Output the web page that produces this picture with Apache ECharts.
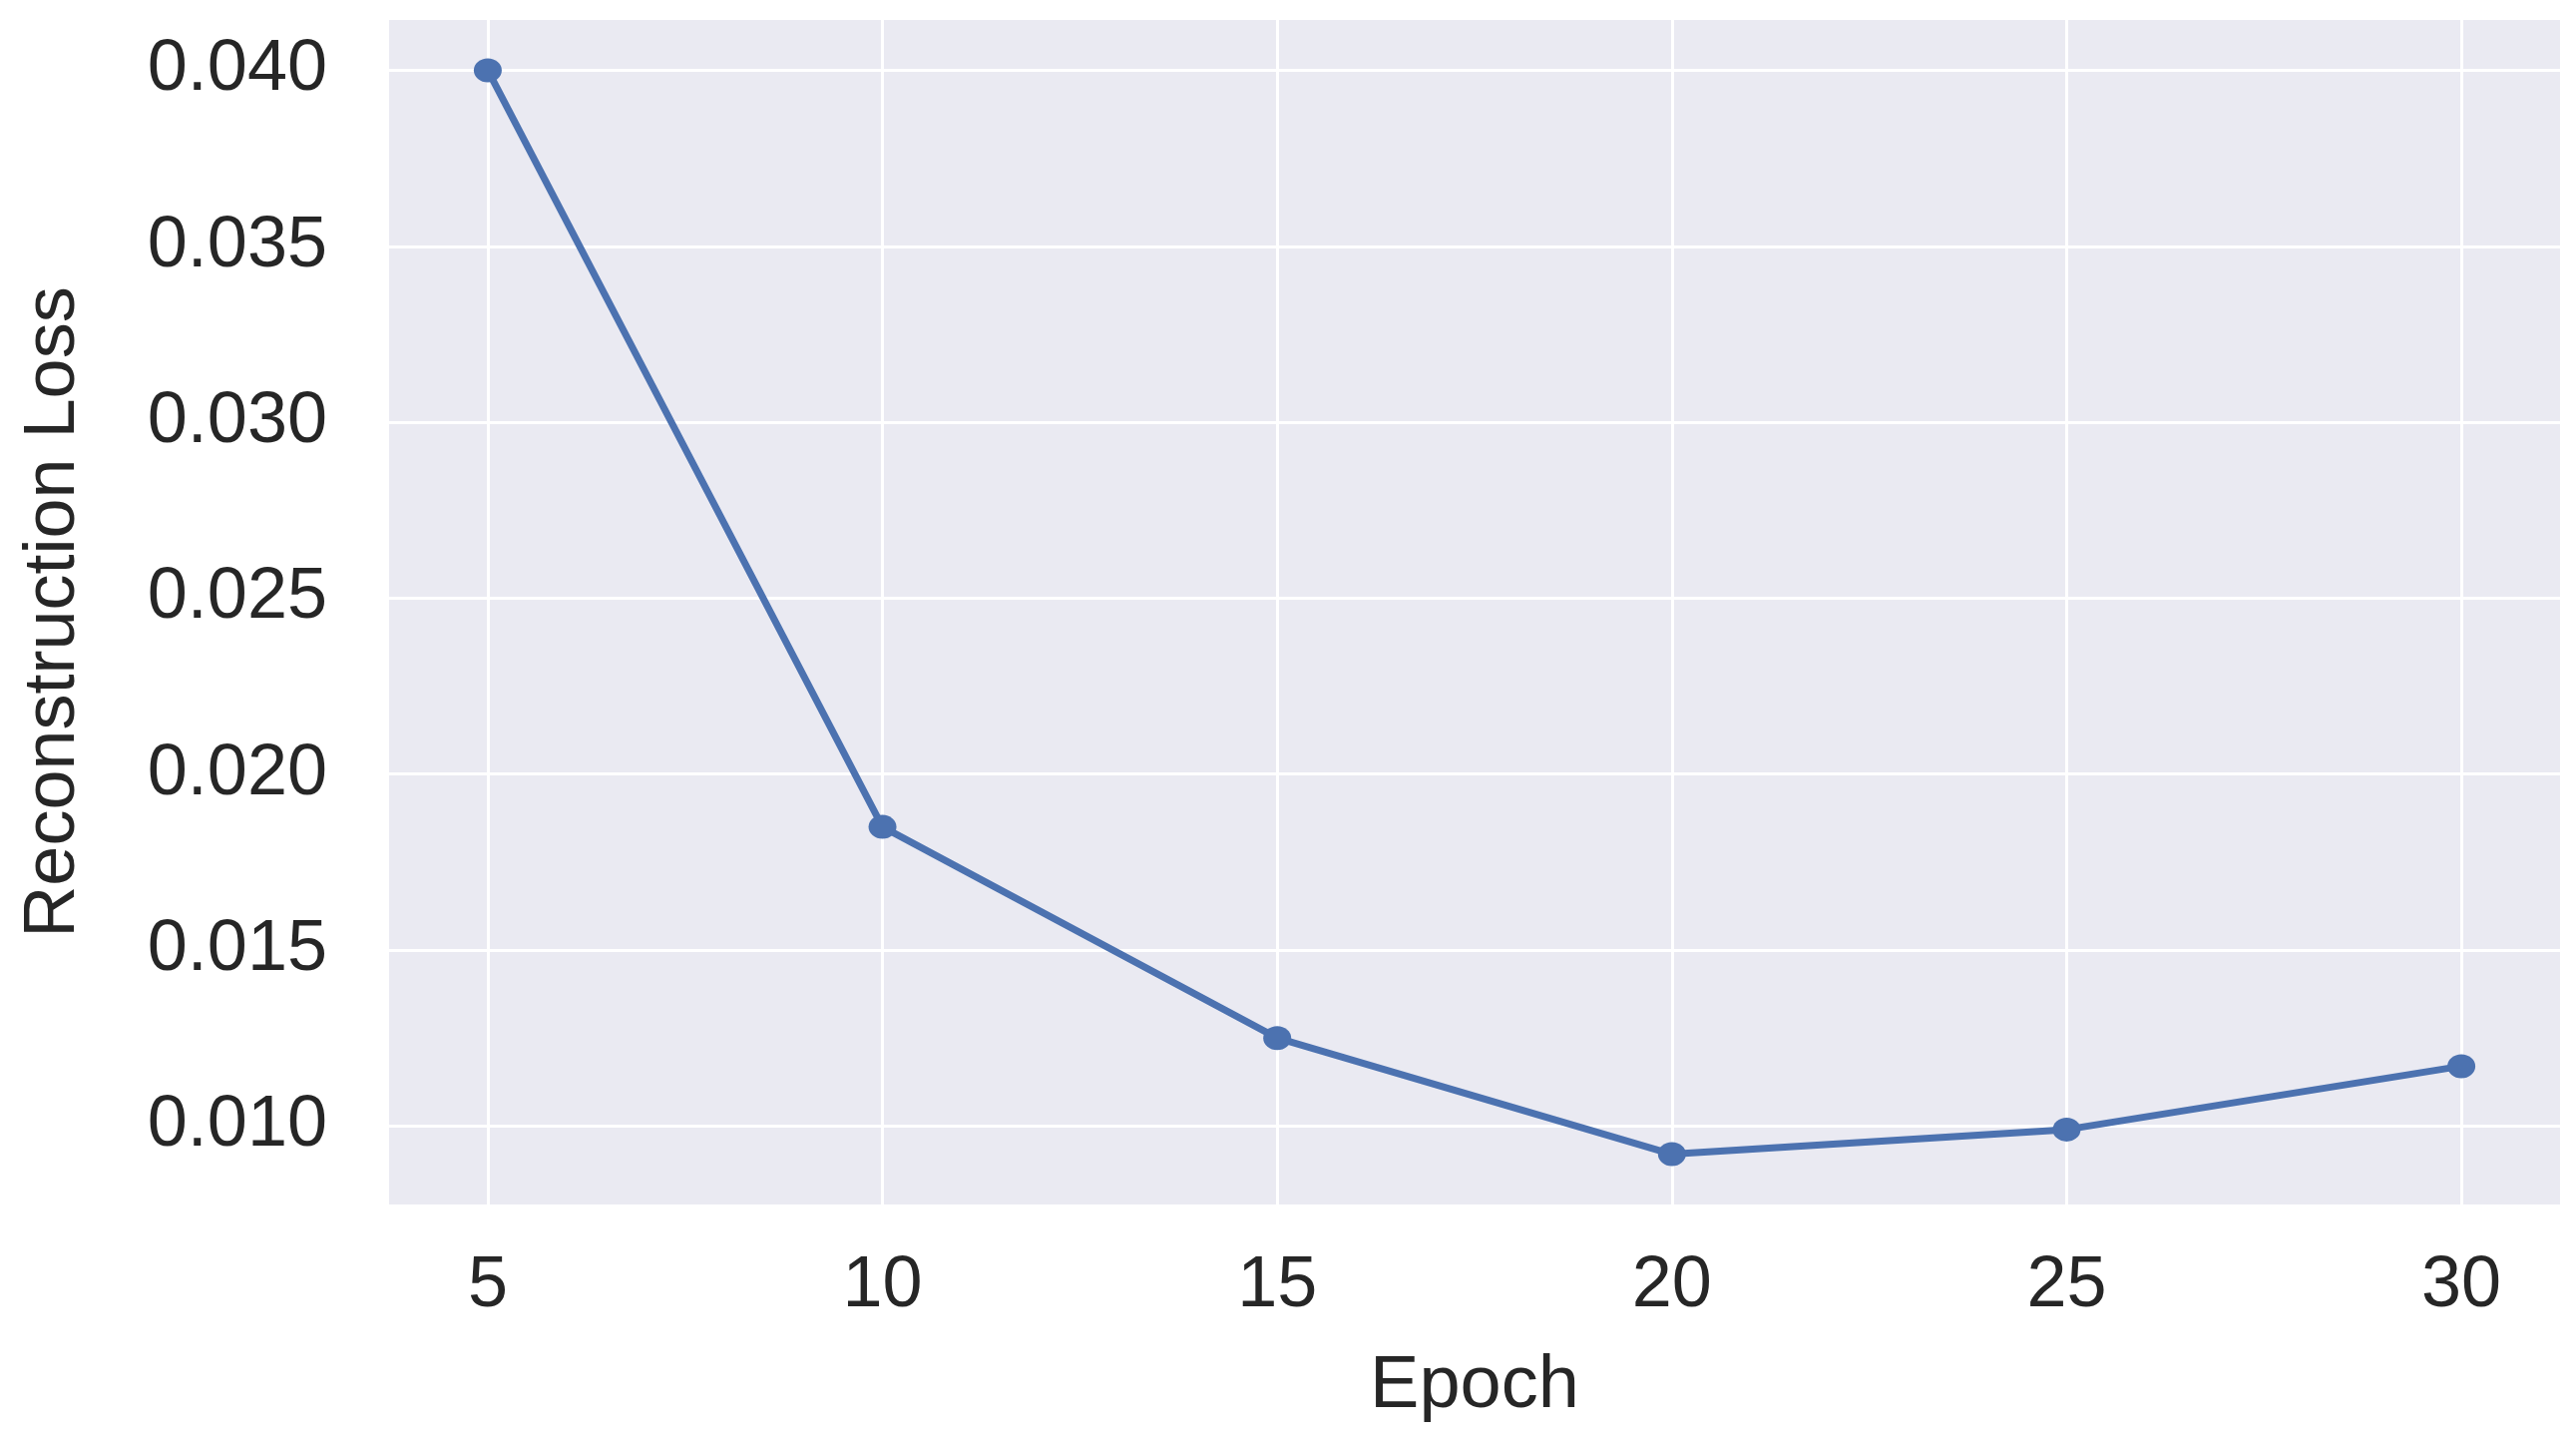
<!DOCTYPE html>
<html>

<head>
    <meta charset="utf-8">
    <script src="https://cdn.jsdelivr.net/npm/echarts@6/dist/echarts.min.js"></script>
    <style>
        html, body { margin: 0; padding: 0; background: #fff; }
    </style>
</head>

<body>
    <div id="main" style="width: 2582px;height:1445px;"></div>
    <script type="text/javascript">
        // data
        var epochs = [5, 10, 15, 20, 25, 30];
        var loss = [0.0400, 0.0185, 0.0125, 0.0092, 0.0099, 0.0117];
        var xTicks = [5, 10, 15, 20, 25, 30];
        var yTicks = [0.010, 0.015, 0.020, 0.025, 0.030, 0.035, 0.040];

        var chartDom = document.getElementById('main');
        var myChart = echarts.init(chartDom);
        var font = 'Liberation Sans, Arial, sans-serif';
        var textColor = '#262626';

        var option = {
            animation: false,
            grid: {
                left: 390,
                right: 16,
                top: 20,
                bottom: 238,
                show: true,
                backgroundColor: '#EAEAF2',
                borderWidth: 0
            },
            xAxis: {
                type: 'value',
                min: 3.75,
                max: 31.25,
                name: 'Epoch',
                nameLocation: 'middle',
                nameGap: 146,
                nameTextStyle: { fontSize: 74, color: textColor, fontFamily: font },
                axisLine: { show: false },
                axisTick: { show: false, customValues: xTicks },
                axisLabel: {
                    customValues: xTicks,
                    fontSize: 72,
                    color: textColor,
                    fontFamily: font,
                    margin: 46
                },
                splitLine: { show: true, lineStyle: { color: '#ffffff', width: 3 } }
            },
            yAxis: {
                type: 'value',
                min: 0.00777,
                max: 0.04143,
                name: 'Reconstruction Loss',
                nameLocation: 'middle',
                nameGap: 300,
                nameTextStyle: { fontSize: 72, color: textColor, fontFamily: font },
                axisLine: { show: false },
                axisTick: { show: false, customValues: yTicks },
                axisLabel: {
                    customValues: yTicks,
                    fontSize: 72,
                    color: textColor,
                    fontFamily: font,
                    margin: 62,
                    formatter: function (v) { return v.toFixed(3); }
                },
                splitLine: { show: true, lineStyle: { color: '#ffffff', width: 3 } }
            },
            series: [
                {
                    type: 'line',
                    data: epochs.map(function (e, i) { return [e, loss[i]]; }),
                    symbol: 'circle',
                    symbolSize: [28, 24],
                    itemStyle: { color: '#4C72B0' },
                    lineStyle: { color: '#4C72B0', width: 7 }
                }
            ]
        };
        myChart.setOption(option);
    </script>
</body>

</html>
